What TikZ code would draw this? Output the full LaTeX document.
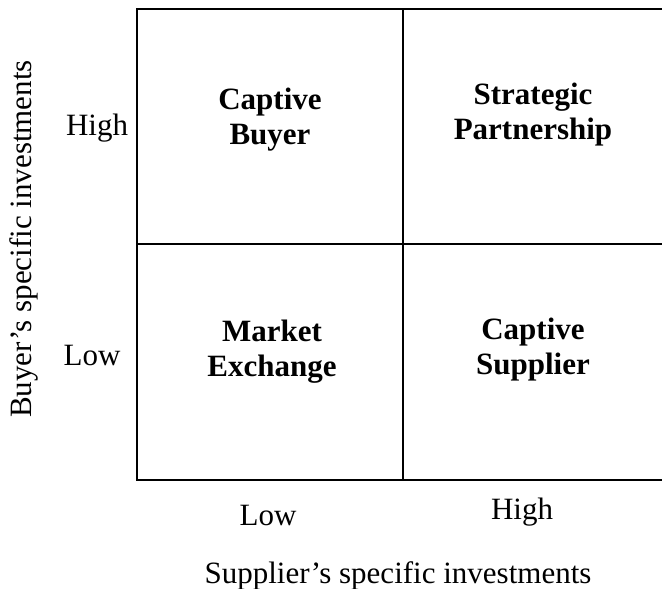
\documentclass[tikz,border=0pt]{standalone}
\usepackage{fontspec}
\setmainfont{Liberation Serif}
\begin{document}
\begin{tikzpicture}[x=1pt,y=-1pt,
  cell/.style={font=\fontsize{31}{35}\selectfont\bfseries, align=center, inner sep=0pt},
  axislbl/.style={font=\fontsize{31}{35}\selectfont, inner sep=0pt},
  grid/.style={line width=2pt, black}]
\useasboundingbox (0,0) rectangle (662,589);
\begin{scope}
\clip (0,0) rectangle (662,589);
\draw[grid] (137,9) rectangle (669,480);
\draw[grid] (403,9) -- (403,480);
\draw[grid] (137,244) -- (669,244);
\end{scope}
\node[cell] (cb) at (270,120) {Captive\\Buyer};
\node[cell] (sp) at (533,115) {Strategic\\Partnership};
\node[cell] (me) at (272,352) {Market\\Exchange};
\node[cell] (cs) at (533,350) {Captive\\Supplier};
\node[axislbl] (yh) at (97,128) {High};
\node[axislbl] (yl) at (92,355) {Low};
\node[axislbl] (xl) at (268,515) {Low};
\node[axislbl] (xh) at (522,512) {High};
\node[axislbl] (xt) at (398,576) {Supplier’s specific investments};
\node[axislbl, rotate=90] (yt) at (24,239) {Buyer’s specific investments};
\end{tikzpicture}
\end{document}
